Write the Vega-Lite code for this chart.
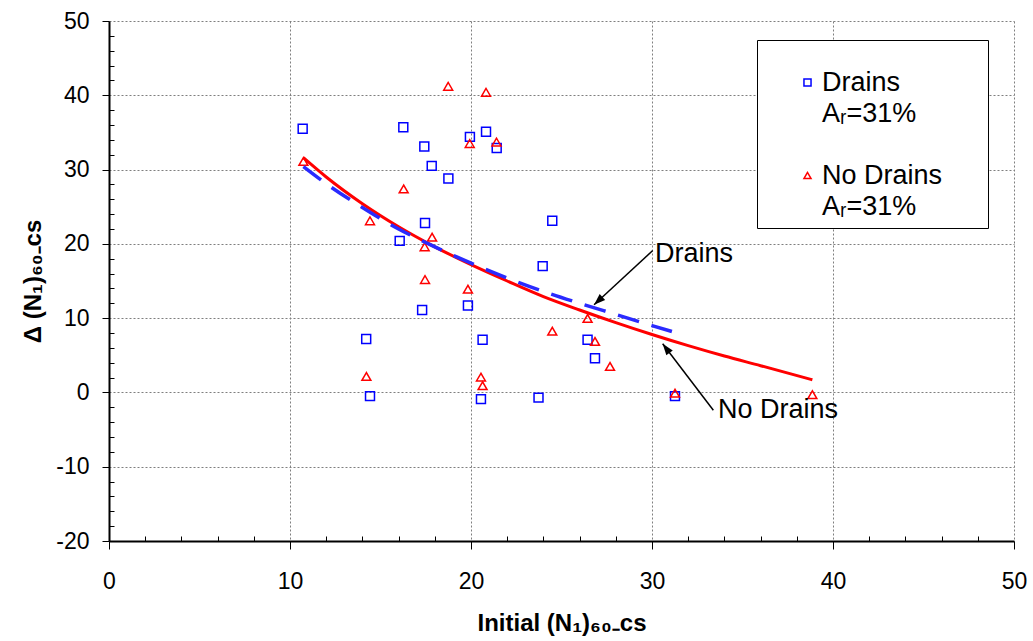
{
  "$schema": "https://vega.github.io/schema/vega-lite/v6.json",
  "width": 905,
  "height": 520,
  "autosize": {"type": "none"},
  "padding": {"left": 109, "top": 21, "right": 19, "bottom": 100},
  "background": "white",
  "config": {
    "view": {"stroke": null},
    "font": "Liberation Sans",
    "axis": {"labelFont": "Liberation Sans", "titleFont": "Liberation Sans", "labelColor": "black", "titleColor": "black"},
    "legend": {
      "orient": "none",
      "legendX": 648,
      "legendY": 19,
      "titleFontSize": 12,
      "titlePadding": 9,
      "padding": 8,
      "strokeColor": "black",
      "fillColor": "white",
      "symbolOffset": 29,
      "symbolSize": 50,
      "symbolStrokeWidth": 1.5,
      "labelFont": "Liberation Sans",
      "labelFontSize": 27,
      "labelColor": "black",
      "labelOffset": 1,
      "labelLimit": 400,
      "rowPadding": 3
    }
  },
  "datasets": {
    "points": [
      {"x": 10.70, "y": 35.5, "series": "Drains"},
      {"x": 16.26, "y": 35.7, "series": "Drains"},
      {"x": 17.42, "y": 33.1, "series": "Drains"},
      {"x": 17.83, "y": 30.5, "series": "Drains"},
      {"x": 18.75, "y": 28.8, "series": "Drains"},
      {"x": 19.94, "y": 34.4, "series": "Drains"},
      {"x": 20.83, "y": 35.1, "series": "Drains"},
      {"x": 21.42, "y": 32.9, "series": "Drains"},
      {"x": 17.46, "y": 22.8, "series": "Drains"},
      {"x": 16.06, "y": 20.4, "series": "Drains"},
      {"x": 24.49, "y": 23.1, "series": "Drains"},
      {"x": 23.96, "y": 17.0, "series": "Drains"},
      {"x": 19.83, "y": 11.7, "series": "Drains"},
      {"x": 17.30, "y": 11.1, "series": "Drains"},
      {"x": 14.21, "y": 7.2, "series": "Drains"},
      {"x": 20.64, "y": 7.1, "series": "Drains"},
      {"x": 26.44, "y": 7.1, "series": "Drains"},
      {"x": 26.85, "y": 4.6, "series": "Drains"},
      {"x": 14.42, "y": -0.5, "series": "Drains"},
      {"x": 20.55, "y": -0.9, "series": "Drains"},
      {"x": 23.73, "y": -0.7, "series": "Drains"},
      {"x": 31.27, "y": -0.5, "series": "Drains"},
      {"x": 10.74, "y": 31.1, "series": "No Drains"},
      {"x": 18.74, "y": 41.2, "series": "No Drains"},
      {"x": 20.83, "y": 40.4, "series": "No Drains"},
      {"x": 19.93, "y": 33.5, "series": "No Drains"},
      {"x": 21.41, "y": 33.7, "series": "No Drains"},
      {"x": 16.28, "y": 27.4, "series": "No Drains"},
      {"x": 14.42, "y": 23.1, "series": "No Drains"},
      {"x": 17.85, "y": 20.9, "series": "No Drains"},
      {"x": 17.44, "y": 19.6, "series": "No Drains"},
      {"x": 17.46, "y": 15.2, "series": "No Drains"},
      {"x": 19.83, "y": 13.9, "series": "No Drains"},
      {"x": 24.49, "y": 8.25, "series": "No Drains"},
      {"x": 14.22, "y": 2.15, "series": "No Drains"},
      {"x": 20.55, "y": 2.06, "series": "No Drains"},
      {"x": 20.64, "y": 0.9, "series": "No Drains"},
      {"x": 26.44, "y": 9.96, "series": "No Drains"},
      {"x": 26.85, "y": 6.86, "series": "No Drains"},
      {"x": 27.68, "y": 3.5, "series": "No Drains"},
      {"x": 31.27, "y": -0.1, "series": "No Drains"},
      {"x": 38.86, "y": -0.3, "series": "No Drains"}
    ],
    "curves": [
      {"x": 10.74, "y": 31.6, "curve": "No Drains"},
      {"x": 12, "y": 29.0, "curve": "No Drains"},
      {"x": 14, "y": 25.4, "curve": "No Drains"},
      {"x": 16, "y": 22.3, "curve": "No Drains"},
      {"x": 18, "y": 19.6, "curve": "No Drains"},
      {"x": 20, "y": 17.2, "curve": "No Drains"},
      {"x": 22, "y": 15.0, "curve": "No Drains"},
      {"x": 24, "y": 12.9, "curve": "No Drains"},
      {"x": 26, "y": 11.1, "curve": "No Drains"},
      {"x": 28, "y": 9.4, "curve": "No Drains"},
      {"x": 30, "y": 7.8, "curve": "No Drains"},
      {"x": 32, "y": 6.3, "curve": "No Drains"},
      {"x": 34, "y": 4.9, "curve": "No Drains"},
      {"x": 36, "y": 3.6, "curve": "No Drains"},
      {"x": 38.86, "y": 1.7, "curve": "No Drains"},
      {"x": 10.74, "y": 30.4, "curve": "Drains"},
      {"x": 12, "y": 28.1, "curve": "Drains"},
      {"x": 14, "y": 24.9, "curve": "Drains"},
      {"x": 16, "y": 22.0, "curve": "Drains"},
      {"x": 18, "y": 19.6, "curve": "Drains"},
      {"x": 20, "y": 17.4, "curve": "Drains"},
      {"x": 22, "y": 15.4, "curve": "Drains"},
      {"x": 24, "y": 13.6, "curve": "Drains"},
      {"x": 26, "y": 12.0, "curve": "Drains"},
      {"x": 28, "y": 10.5, "curve": "Drains"},
      {"x": 30, "y": 9.0, "curve": "Drains"},
      {"x": 31.1, "y": 8.2, "curve": "Drains"}
    ],
    "notes": [
      {"label": "Drains", "x": 30.17, "y": 18.7, "x0": 30.04, "y0": 19.1, "xt": 26.8, "yt": 11.8},
      {"label": "No Drains", "x": 33.65, "y": -2.4, "x0": 33.39, "y0": -2.4, "xt": 30.59, "yt": 6.55}
    ]
  },
  "layer": [
    {
      "data": {"name": "points"},
      "mark": {"type": "point", "filled": false, "strokeWidth": 1.5, "size": 80, "opacity": 1},
      "encoding": {
        "x": {
          "field": "x", "type": "quantitative",
          "scale": {"domain": [0, 50], "nice": false, "zero": false},
          "axis": {
            "title": "Initial (N₁)₆₀₋cs",
            "values": [0,2,4,6,8,10,12,14,16,18,20,22,24,26,28,30,32,34,36,38,40,42,44,46,48,50],
            "tickCount": 200,
            "tickSize": {"condition": {"test": "datum.value % 10 === 0", "value": 8}, "value": -5},
            "tickColor": "black",
            "tickWidth": 1,
            "labelExpr": "datum.value % 10 === 0 ? toString(datum.value) : ''",
            "labelFontSize": 23,
            "labelPadding": 21,
            "labelOverlap": false,
            "labelFlush": false,
            "grid": true,
            "gridColor": "#7f7f7f",
            "gridDash": [2, 2],
            "gridWidth": 1,
            "gridOpacity": {"condition": {"test": "datum.value % 10 === 0", "value": 1}, "value": 0},
            "domainColor": "black",
            "domainWidth": 2,
            "titleFontSize": 24,
            "titleFontWeight": "bold",
            "titlePadding": 18
          }
        },
        "y": {
          "field": "y", "type": "quantitative",
          "scale": {"domain": [-20, 50], "nice": false, "zero": false},
          "axis": {
            "title": "Δ (N₁)₆₀₋cs",
            "values": [-20,-18,-16,-14,-12,-10,-8,-6,-4,-2,0,2,4,6,8,10,12,14,16,18,20,22,24,26,28,30,32,34,36,38,40,42,44,46,48,50],
            "tickCount": 200,
            "tickSize": {"condition": {"test": "datum.value % 10 === 0", "value": 7}, "value": -5},
            "tickColor": "black",
            "tickWidth": 1,
            "labelExpr": "datum.value % 10 === 0 ? toString(datum.value) : ''",
            "labelFontSize": 23,
            "labelPadding": 13,
            "labelOverlap": false,
            "labelFlush": false,
            "grid": true,
            "gridColor": "#7f7f7f",
            "gridDash": [2, 2],
            "gridWidth": 1,
            "gridOpacity": {"condition": {"test": "datum.value % 10 === 0", "value": 1}, "value": 0},
            "domainColor": "black",
            "domainWidth": 2,
            "titleFontSize": 24,
            "titleFontWeight": "bold",
            "titlePadding": 10
          }
        },
        "shape": {
          "field": "series", "type": "nominal",
          "scale": {"domain": ["Drains", "Ar1", "gap", "No Drains", "Ar2"], "range": ["square", "square", "square", "triangle-up", "triangle-up"]},
          "legend": {
            "title": " ",
            "labelExpr": "datum.value == 'Ar1' || datum.value == 'Ar2' ? 'Aᵣ=31%' : datum.value == 'No Drains' ? 'No Drains\u00a0\u00a0\u00a0\u00a0\u00a0\u200b' : datum.value == 'gap' ? '' : datum.value",
            "encode": {"legend": {"update": {"strokeWidth": {"value": 3}}}}
          }
        },
        "color": {
          "field": "series", "type": "nominal",
          "scale": {"domain": ["Drains", "Ar1", "gap", "No Drains", "Ar2"], "range": ["#0000ff", "#ffffff", "#ffffff", "#ff0000", "#ffffff"]},
          "legend": {
            "title": " ",
            "labelExpr": "datum.value == 'Ar1' || datum.value == 'Ar2' ? 'Aᵣ=31%' : datum.value == 'No Drains' ? 'No Drains\u00a0\u00a0\u00a0\u00a0\u00a0\u200b' : datum.value == 'gap' ? '' : datum.value",
            "encode": {"legend": {"update": {"strokeWidth": {"value": 3}}}}
          }
        }
      }
    },
    {
      "mark": {"type": "rule", "color": "black", "strokeWidth": 3},
      "encoding": {"y": {"datum": 0, "type": "quantitative"}}
    },
    {
      "data": {"name": "curves"},
      "transform": [{"filter": "datum.curve == 'No Drains'"}],
      "mark": {"type": "line", "color": "#ff0000", "strokeWidth": 3, "interpolate": "monotone"},
      "encoding": {
        "x": {"field": "x", "type": "quantitative"},
        "y": {"field": "y", "type": "quantitative"}
      }
    },
    {
      "data": {"name": "curves"},
      "transform": [{"filter": "datum.curve == 'Drains'"}],
      "mark": {"type": "line", "color": "#2a2aff", "strokeWidth": 3.5, "strokeDash": [22, 13], "interpolate": "monotone"},
      "encoding": {
        "x": {"field": "x", "type": "quantitative"},
        "y": {"field": "y", "type": "quantitative"}
      }
    },
    {
      "data": {"name": "notes"},
      "mark": {"type": "text", "align": "left", "baseline": "middle", "font": "Liberation Sans", "fontSize": 27, "color": "black"},
      "encoding": {
        "x": {"field": "x", "type": "quantitative"},
        "y": {"field": "y", "type": "quantitative"},
        "text": {"field": "label"}
      }
    },
    {
      "data": {"name": "notes"},
      "mark": {"type": "rule", "color": "black", "strokeWidth": 1.5},
      "encoding": {
        "x": {"field": "x0", "type": "quantitative"},
        "y": {"field": "y0", "type": "quantitative"},
        "x2": {"field": "xt"},
        "y2": {"field": "yt"}
      }
    },
    {
      "data": {"name": "notes"},
      "transform": [{"filter": "datum.label == 'Drains'"}],
      "mark": {"type": "point", "shape": "M0,0L-0.6,1.7L0.6,1.7Z", "filled": true, "color": "black", "size": 180, "angle": 227, "opacity": 1},
      "encoding": {
        "x": {"field": "xt", "type": "quantitative"},
        "y": {"field": "yt", "type": "quantitative"}
      }
    },
    {
      "data": {"name": "notes"},
      "transform": [{"filter": "datum.label == 'No Drains'"}],
      "mark": {"type": "point", "shape": "M0,0L-0.6,1.7L0.6,1.7Z", "filled": true, "color": "black", "size": 180, "angle": 323, "opacity": 1},
      "encoding": {
        "x": {"field": "xt", "type": "quantitative"},
        "y": {"field": "yt", "type": "quantitative"}
      }
    }
  ]
}
